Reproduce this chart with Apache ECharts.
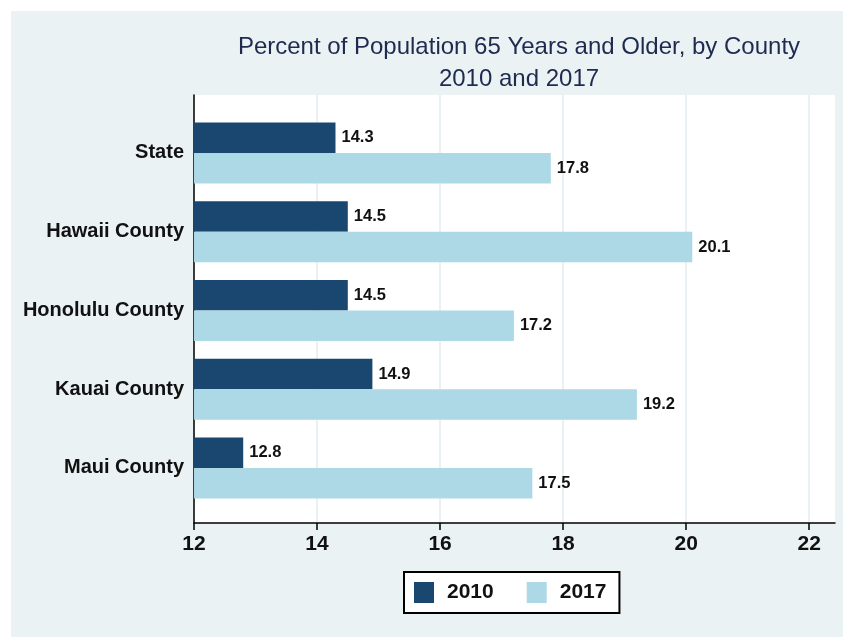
<!DOCTYPE html>
<html>
<head>
<meta charset="utf-8">
<script src="https://cdn.jsdelivr.net/npm/echarts@6/dist/echarts.min.js"></script>
<style>
  html, body { margin: 0; padding: 0; background: #ffffff; width: 843px; height: 637px; overflow: hidden; }
  #chart { position: absolute; left: 11px; top: 11px; width: 832px; height: 626px; }
</style>
</head>
<body>
<div id="chart"></div>
<script>
const categories = ['State', 'Hawaii County', 'Honolulu County', 'Kauai County', 'Maui County'];
const values2010 = [14.3, 14.5, 14.5, 14.9, 12.8];
const values2017 = [17.8, 20.1, 17.2, 19.2, 17.5];
const seriesNames = ['2010', '2017'];
const xTicks = [12, 14, 16, 18, 20, 22];
const titleLines = ['Percent of Population 65 Years and Older, by County', '2010 and 2017'];

const FONT = '"Liberation Sans", Arial, Helvetica, sans-serif';
const X_MIN = 12, X_MAX = 22.42;

const chart = echarts.init(document.getElementById('chart'));
const labelStyle = {
  show: true, position: 'right', distance: 6,
  fontFamily: FONT, fontWeight: 'bold', fontSize: 16.5, color: '#111'
};
chart.setOption({
  backgroundColor: '#eaf2f3',
  animation: false,
  title: {
    text: titleLines.join('\n'),
    left: 503, top: 15, textAlign: 'center',
    textStyle: { fontFamily: FONT, fontWeight: 'normal', fontSize: 24, lineHeight: 32, color: '#1e2a4f' }
  },
  legend: {
    data: seriesNames,
    left: 393, top: 561, orient: 'horizontal',
    padding: [10, 13, 10, 10],
    borderColor: '#000', borderWidth: 2, backgroundColor: '#fff',
    itemWidth: 20, itemHeight: 21, itemGap: 33, icon: 'rect',
    textStyle: { fontFamily: FONT, fontWeight: 'bold', fontSize: 21, color: '#111', padding: [0, 0, 0, 8] }
  },
  grid: [
    { left: 183, top: 84, width: 641, height: 428, show: true, backgroundColor: '#ffffff', borderWidth: 0 },
    { left: 183, top: 102.6, width: 641, height: 393.75, show: false }
  ],
  xAxis: [
    {
      gridIndex: 0, type: 'value', min: X_MIN, max: X_MAX, interval: 2,
      axisLine: { show: true, lineStyle: { color: '#000', width: 1.5 } },
      axisTick: { show: true, length: 7, lineStyle: { color: '#000', width: 1.5 }, customValues: xTicks },
      axisLabel: {
        margin: 11, fontFamily: FONT, fontWeight: 'bold', fontSize: 21, color: '#111',
        customValues: xTicks,
        formatter: v => (xTicks.indexOf(v) >= 0 ? String(v) : '')
      },
      splitLine: { show: true, lineStyle: { color: '#e2ecf0', width: 1.5 } }
    },
    {
      gridIndex: 1, type: 'value', min: X_MIN, max: X_MAX, show: false
    }
  ],
  yAxis: [
    {
      gridIndex: 0, type: 'value', min: 0, max: 1,
      axisLine: { show: true, lineStyle: { color: '#000', width: 1.5 } },
      axisTick: { show: false }, axisLabel: { show: false }, splitLine: { show: false }
    },
    {
      gridIndex: 1, type: 'category', data: categories, inverse: true,
      axisLine: { show: false }, axisTick: { show: false }, splitLine: { show: false },
      axisLabel: { margin: 10, fontFamily: FONT, fontWeight: 'bold', fontSize: 20, color: '#111' }
    }
  ],
  series: [
    {
      name: seriesNames[0], type: 'bar', xAxisIndex: 1, yAxisIndex: 1,
      data: values2010, barWidth: 30.5, barGap: '0%',
      itemStyle: { color: '#1a476f' }, label: labelStyle
    },
    {
      name: seriesNames[1], type: 'bar', xAxisIndex: 1, yAxisIndex: 1,
      data: values2017, barWidth: 30.5, barGap: '0%',
      itemStyle: { color: '#add8e6' }, label: labelStyle
    }
  ]
});
</script>
</body>
</html>
